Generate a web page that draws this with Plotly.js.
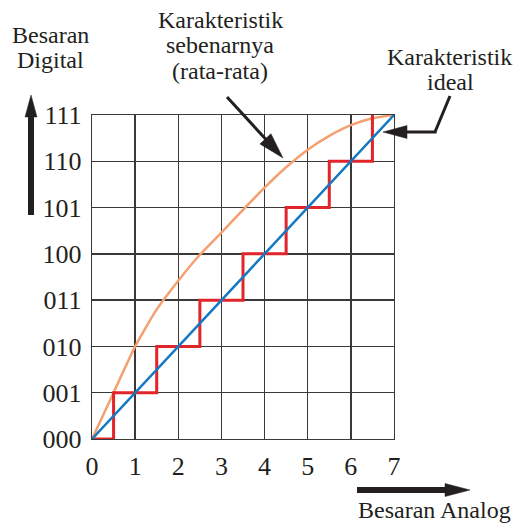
<!DOCTYPE html>
<html>
<head>
<meta charset="utf-8">
<script src="https://cdn.plot.ly/plotly-3.0.1.min.js"></script>
<style>html,body{margin:0;padding:0;background:#fff;}#chart{width:514px;height:525px;}</style>
</head>
<body>
<div id="chart"></div>
<script>
// ---- data ----
const xTicks = [0, 1, 2, 3, 4, 5, 6, 7];
const xTickLabels = ["0", "1", "2", "3", "4", "5", "6", "7"];
const yTicks = [0, 1, 2, 3, 4, 5, 6, 7];
const yTickLabels = ["000", "001", "010", "011", "100", "101", "110", "111"];

// ideal characteristic (straight line)
const idealX = [0, 7];
const idealY = [0, 7];

// quantised staircase (step transitions)
const stepX = [0, 0.5, 1.5, 2.5, 3.5, 4.5, 5.5, 6.5];
const stepY = [0, 1, 2, 3, 4, 5, 6, 7];

const actualX = [0, 0.5, 1, 1.5, 2, 2.5, 3, 3.5, 4, 4.5, 5, 5.5, 6, 6.5, 7];
const actualY = [0, 1, 2, 2.8, 3.42, 3.98, 4.46, 4.95, 5.43, 5.87, 6.25, 6.55, 6.78, 6.93, 7];

// ---- layout helpers (pixel -> paper) ----
const L = 92, T = 115, W = 302, H = 324;
const PX = p => (p - L) / W;
const PY = p => (T + H - p) / H;
const ink = "#231f20";
const FONT = "Liberation Serif, Times New Roman, serif";

function arrow(x0, y0, x1, y1, sw, hl, hw) {
  const dx = x1 - x0, dy = y1 - y0, len = Math.hypot(dx, dy);
  const ux = dx / len, uy = dy / len;
  const bx = x1 - ux * hl, by = y1 - uy * hl;
  const nx = -uy, ny = ux;
  const shapes = [];
  shapes.push({type: "line", xref: "paper", yref: "paper",
    x0: PX(x0), y0: PY(y0), x1: PX(bx + ux * 2), y1: PY(by + uy * 2),
    line: {color: ink, width: sw}});
  const p = [[x1, y1], [bx + nx * hw / 2, by + ny * hw / 2], [bx - nx * hw / 2, by - ny * hw / 2]];
  shapes.push({type: "path", xref: "paper", yref: "paper",
    path: "M" + p.map(q => PX(q[0]) + "," + PY(q[1])).join(" L") + " Z",
    fillcolor: ink, line: {color: ink, width: 0.5}});
  return shapes;
}
function seg(x0, y0, x1, y1, w) {
  return {type: "line", xref: "paper", yref: "paper",
    x0: PX(x0), y0: PY(y0), x1: PX(x1), y1: PY(y1), line: {color: ink, width: w}};
}

let shapes = [];
shapes = shapes.concat(arrow(31, 215, 31, 95, 6, 22, 12));
shapes = shapes.concat(arrow(357, 490, 470, 490, 6, 25, 13));
shapes = shapes.concat(arrow(227, 97, 283, 158, 3, 26, 15));
shapes.push(seg(450, 96, 435, 132, 3));
shapes.push(seg(436.5, 132, 404, 132, 3));
shapes = shapes.concat(arrow(406, 132, 383, 132, 3, 24, 13));

function txt(text, x, y, xanchor) {
  return {text: text, xref: "paper", yref: "paper", x: PX(x), y: PY(y),
    xanchor: xanchor || "center", yanchor: "middle", showarrow: false,
    font: {family: FONT, size: 24, color: ink}};
}
const annotations = [
  txt("Besaran", 50, 35), txt("Digital", 50, 60),
  txt("Karakteristik", 220, 20), txt("sebenarnya", 220, 45), txt("(rata-rata)", 220, 71),
  txt("Karakteristik", 449, 57), txt("ideal", 450, 82),
  txt("Besaran Analog", 356, 510, "left")
];

const traces = [
  {x: actualX, y: actualY, mode: "lines", line: {color: "#f4a071", width: 2.5, shape: "spline", smoothing: 0.5},
   cliponaxis: false, hoverinfo: "skip"},
  {x: stepX, y: stepY, mode: "lines", line: {color: "#e2252b", width: 3, shape: "hv"},
   cliponaxis: false, hoverinfo: "skip"},
  {x: idealX, y: idealY, mode: "lines", line: {color: "#1479c2", width: 2.5},
   cliponaxis: false, hoverinfo: "skip"}
];

const axisCommon = {
  showgrid: true, gridcolor: "#3b3838", gridwidth: 1.3,
  showline: true, linecolor: "#3b3838", linewidth: 1.3, mirror: true,
  zeroline: false, ticks: "", fixedrange: true,
  tickfont: {family: FONT, size: 26, color: ink}
};

const layout = {
  width: 514, height: 525,
  margin: {l: L, r: 514 - L - W, t: T, b: 525 - T - H, pad: 0},
  paper_bgcolor: "#ffffff", plot_bgcolor: "#ffffff",
  showlegend: false,
  xaxis: Object.assign({}, axisCommon, {range: [0, 7], tickmode: "array", tickvals: xTicks, ticktext: xTickLabels, ticklabelstandoff: 3}),
  yaxis: Object.assign({}, axisCommon, {range: [0, 7], tickmode: "array", tickvals: yTicks, ticktext: yTickLabels, ticklabelstandoff: 4}),
  shapes: shapes,
  annotations: annotations
};

Plotly.newPlot("chart", traces, layout, {displayModeBar: false, staticPlot: true});
</script>
</body>
</html>
